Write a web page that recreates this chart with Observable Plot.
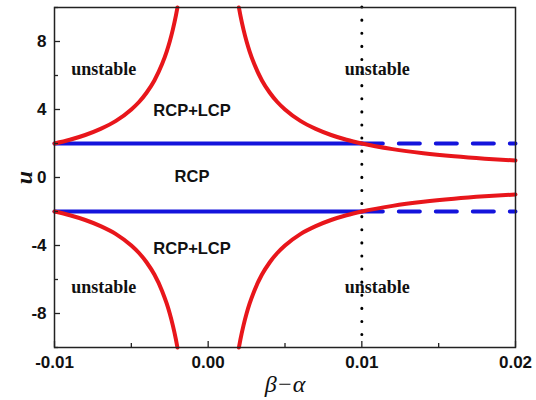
<!DOCTYPE html>
<html>
<head>
<meta charset="utf-8">
<script src="https://cdn.jsdelivr.net/npm/d3@7"></script>
<script src="https://cdn.jsdelivr.net/npm/@observablehq/plot@0.6"></script>
<style>
  html, body { margin: 0; padding: 0; background: #fff; }
  #chart svg { font-family: "Liberation Sans", Arial, sans-serif; }
  #chart g[aria-label="x-axis tick label"] text,
  #chart g[aria-label="y-axis tick label"] text { font-weight: bold; font-size: 17px; }
  #chart g[aria-label="x-axis label"] text { font-family: "Liberation Serif", serif; font-style: italic; font-size: 24px; }
  #chart g[aria-label="y-axis label"] text { font-family: "Liberation Serif", serif; font-style: italic; font-weight: bold; font-size: 24px; }
</style>
</head>
<body>
<div id="chart"></div>
<script>
// Red boundary curves
const leftX  = [-0.01, -0.009, -0.008, -0.007, -0.006, -0.005, -0.0045, -0.004, -0.0035, -0.003, -0.0027, -0.0025, -0.0023, -0.0021, -0.002];
const leftUp = [2, 2.22, 2.5, 2.86, 3.33, 4, 4.44, 5, 5.71, 6.67, 7.41, 8, 8.7, 9.52, 10];
const leftDn = [-2, -2.22, -2.5, -2.86, -3.33, -4, -4.44, -5, -5.71, -6.67, -7.41, -8, -8.7, -9.52, -10];
const rightX  = [0.002, 0.0021, 0.0023, 0.0025, 0.0027, 0.003, 0.0035, 0.004, 0.0045, 0.005, 0.006, 0.007, 0.008, 0.009, 0.01, 0.012, 0.014, 0.016, 0.018, 0.02];
const rightUp = [10, 9.52, 8.7, 8, 7.41, 6.67, 5.71, 5, 4.44, 4, 3.33, 2.86, 2.5, 2.22, 2, 1.67, 1.43, 1.25, 1.11, 1];
const rightDn = [-10, -9.52, -8.7, -8, -7.41, -6.67, -5.71, -5, -4.44, -4, -3.33, -2.86, -2.5, -2.22, -2, -1.67, -1.43, -1.25, -1.11, -1];

// Blue boundaries u = ±2
const blueLevels = [2, -2];
const blueSolidX = [-0.01, 0.01];
const blueDashX = [0.01, 0.02];
// Vertical dotted line
const dottedX = [0.01];

// Region labels
const labelText = ["unstable", "unstable", "unstable", "unstable", "RCP+LCP", "RCP+LCP", "RCP"];
const labelX = [-0.0068, 0.011, -0.0068, 0.011, -0.00105, -0.00105, -0.00105];
const labelU = [6.35, 6.35, -6.45, -6.45, 3.95, -4.2, 0.05];
const labelFont = ["serif", "serif", "serif", "serif", "sans", "sans", "sans"];

// Ticks
const xMajor = [-0.01, 0, 0.01, 0.02];
const xMinor = [-0.005, 0.005, 0.015];
const yMajor = [-8, -4, 0, 4, 8];
const yMinor = [-10, -6, -2, 2, 6, 10];

const W = 536, H = 400;
const mL = 54, mR = 21, mT = 7, mB = 53;
const fw = W - mL - mR, fh = H - mT - mB;

const toRows = (xs, ys) => xs.map((x, i) => ({x, u: ys[i]}));
const curves = [toRows(leftX, leftUp), toRows(leftX, leftDn), toRows(rightX, rightUp), toRows(rightX, rightDn)];
const solidRows = blueLevels.map(u => blueSolidX.map(x => ({x, u})));
const dashRows = blueLevels.map(u => blueDashX.map(x => ({x, u})));
const labels = labelText.map((t, i) => ({t, x: labelX[i], u: labelU[i], f: labelFont[i]}));

const red = "#e8161b", blue = "#1414dc";

const marks = [];
solidRows.forEach(r => marks.push(Plot.line(r, {x: "x", y: "u", stroke: blue, strokeWidth: 4})));
dashRows.forEach(r => marks.push(Plot.line(r, {x: "x", y: "u", stroke: blue, strokeWidth: 4, strokeDasharray: "21,16"})));
curves.forEach(r => marks.push(Plot.line(r, {x: "x", y: "u", stroke: red, strokeWidth: 4, curve: "monotone-x"})));
marks.push(Plot.ruleX(dottedX, {stroke: "black", strokeWidth: 3, strokeDasharray: "0.1,13", strokeLinecap: "round"}));
marks.push(Plot.text(labels.filter(d => d.f === "serif"), {x: "x", y: "u", text: "t", fontFamily: "Liberation Serif, serif", fontWeight: "bold", fontSize: 18, fill: "#111"}));
marks.push(Plot.text(labels.filter(d => d.f === "sans"), {x: "x", y: "u", text: "t", fontFamily: "Liberation Sans, Arial, sans-serif", fontWeight: "bold", fontSize: 16.5, fill: "#111"}));
// inward ticks
marks.push(Plot.tickX(xMajor, {x: d => d, stroke: "#222", strokeWidth: 1.3, insetTop: fh - 6}));
marks.push(Plot.tickX(xMinor, {x: d => d, stroke: "#222", strokeWidth: 1.3, insetTop: fh - 4}));
marks.push(Plot.tickY(yMajor, {y: d => d, stroke: "#222", strokeWidth: 1.3, insetRight: fw - 6}));
marks.push(Plot.tickY(yMinor, {y: d => d, stroke: "#222", strokeWidth: 1.3, insetRight: fw - 4}));
marks.push(Plot.axisX(xMajor, {tickSize: 0, tickPadding: 8, tickFormat: d => d.toFixed(2), label: "β−α", labelArrow: "none", labelAnchor: "center", labelOffset: 44, fill: "#111"}));
marks.push(Plot.axisY(yMajor, {tickSize: 0, tickPadding: 8, tickFormat: d => String(d), label: "u", labelArrow: "none", labelAnchor: "center", labelOffset: 40, fill: "#111"}));
marks.push(Plot.frame({stroke: "#222", strokeWidth: 1.5}));

const plot = Plot.plot({
  width: W, height: H,
  marginLeft: mL, marginRight: mR, marginTop: mT, marginBottom: mB,
  x: {domain: [-0.01, 0.02]},
  y: {domain: [-10, 10]},
  style: {background: "white", overflow: "visible"},
  marks
});
document.getElementById("chart").appendChild(plot);
</script>
</body>
</html>
